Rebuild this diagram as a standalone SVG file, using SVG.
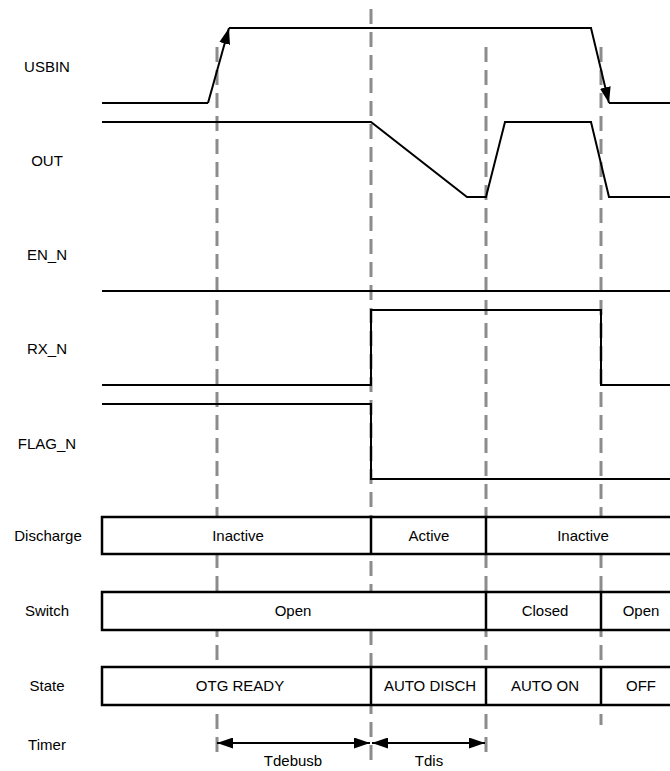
<svg xmlns="http://www.w3.org/2000/svg" width="670" height="771" viewBox="0 0 670 771">
<style>
text{font-family:"Liberation Sans",Arial,sans-serif;font-size:15px;fill:#000;text-anchor:middle}
.w{fill:none;stroke:#000;stroke-width:2;stroke-linejoin:miter}
.b{fill:#fff;stroke:#000;stroke-width:2.5}
.d{fill:none;stroke:#8c8c8c;stroke-width:3;stroke-dasharray:15 8}
</style>
<defs>
<marker id="ah" markerUnits="userSpaceOnUse" markerWidth="16" markerHeight="11" refX="16" refY="5.5" orient="auto-start-reverse" viewBox="0 0 16 11">
<path d="M0,0 L16,5.5 L0,11 z" fill="#000"/>
</marker>
</defs>
<rect width="670" height="771" fill="#fff"/>
<g id="connectors">
<line class="d" x1="217" y1="47" x2="217" y2="752"/>
<line class="d" x1="371" y1="9" x2="371" y2="762"/>
<line class="d" x1="486" y1="47" x2="486" y2="755"/>
<line class="d" x1="601" y1="47" x2="601" y2="725"/>
<line class="w" x1="217" y1="743" x2="370" y2="743" marker-start="url(#ah)" marker-end="url(#ah)"/>
<line class="w" x1="372" y1="743" x2="485" y2="743" marker-start="url(#ah)" marker-end="url(#ah)"/>
</g>
<g id="usbin">
<text x="47" y="72">USBIN</text>
<polyline class="w" points="102,103 208,103"/>
<line class="w" x1="208" y1="103" x2="229" y2="28" marker-end="url(#ah)"/>
<polyline class="w" points="229,28 591,28 609,103" marker-end="url(#ah)"/>
<line class="w" x1="609" y1="103" x2="670" y2="103"/>
</g>
<g id="out">
<text x="47" y="166">OUT</text>
<polyline class="w" points="102,122 371,122 467,197 486,197 505,122 591,122 609,197 670,197"/>
</g>
<g id="en_n">
<text x="47" y="260">EN_N</text>
<line class="w" x1="102" y1="291" x2="670" y2="291"/>
</g>
<g id="rx_n">
<text x="47" y="354">RX_N</text>
<polyline class="w" points="102,385 371,385 371,310 601,310 601,385 670,385"/>
</g>
<g id="flag_n">
<text x="47" y="449">FLAG_N</text>
<polyline class="w" points="102,404 371,404 371,479 670,479"/>
</g>
<g id="discharge">
<text x="48" y="541">Discharge</text>
<rect class="b" x="102" y="517" width="590" height="37"/>
<line class="b" x1="371" y1="517" x2="371" y2="554"/>
<line class="b" x1="486" y1="517" x2="486" y2="554"/>
<text x="238" y="541">Inactive</text>
<text x="429" y="541">Active</text>
<text x="583" y="541">Inactive</text>
</g>
<g id="switch">
<text x="47" y="616">Switch</text>
<rect class="b" x="102" y="592" width="590" height="38"/>
<line class="b" x1="486" y1="592" x2="486" y2="630"/>
<line class="b" x1="601" y1="592" x2="601" y2="630"/>
<text x="293" y="616">Open</text>
<text x="545" y="616">Closed</text>
<text x="641" y="616">Open</text>
</g>
<g id="state">
<text x="47" y="691">State</text>
<rect class="b" x="102" y="667" width="590" height="38"/>
<line class="b" x1="371" y1="667" x2="371" y2="705"/>
<line class="b" x1="486" y1="667" x2="486" y2="705"/>
<line class="b" x1="601" y1="667" x2="601" y2="705"/>
<text x="240" y="691">OTG READY</text>
<text x="430" y="691">AUTO DISCH</text>
<text x="545" y="691">AUTO ON</text>
<text x="641" y="691">OFF</text>
</g>
<g id="timer">
<text x="47" y="750">Timer</text>
<text x="293" y="766">Tdebusb</text>
<text x="429" y="766">Tdis</text>
</g>
</svg>
